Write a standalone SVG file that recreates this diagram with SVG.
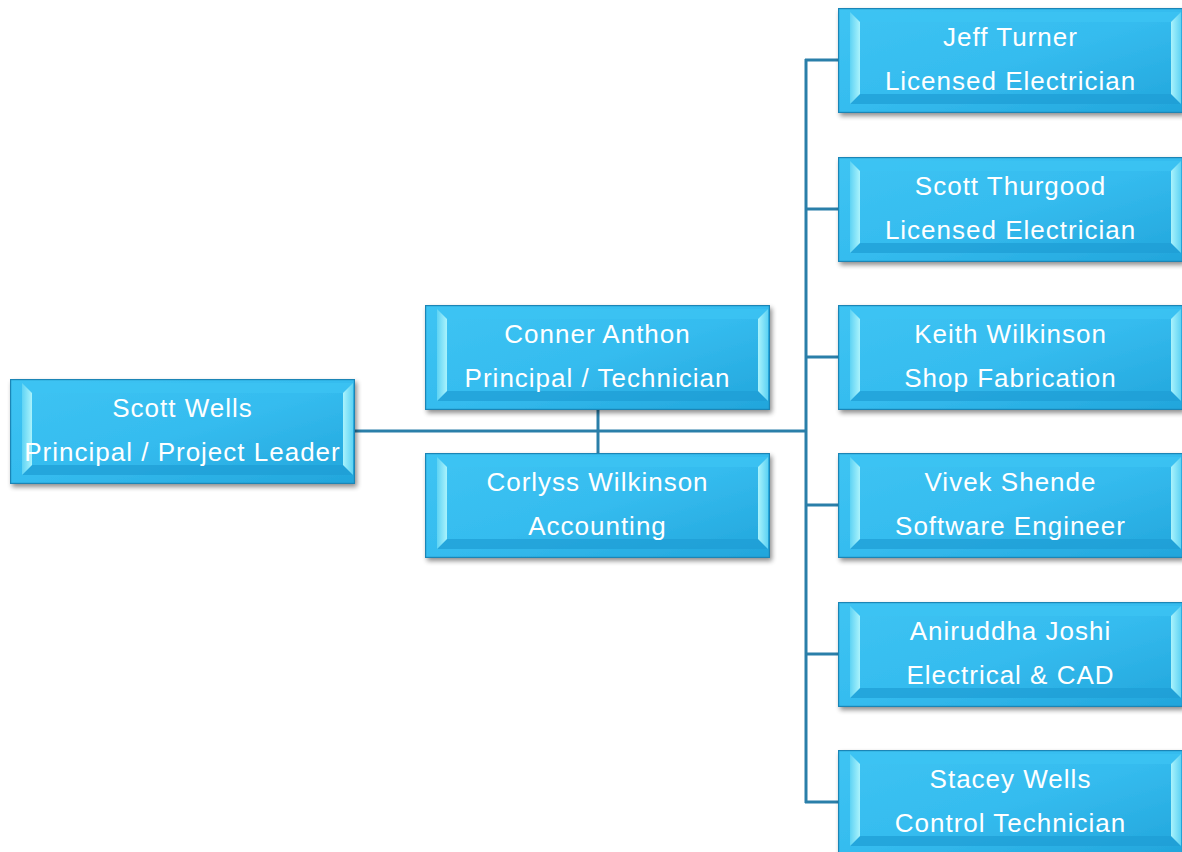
<svg xmlns="http://www.w3.org/2000/svg" xmlns:xlink="http://www.w3.org/1999/xlink" width="1182" height="852" viewBox="0 0 1182 852">
<style>
.lbl{font-family:"Liberation Sans",Arial,sans-serif;font-size:26px;fill:#ffffff;text-anchor:middle;letter-spacing:1px}
.conn{stroke:#2a7fa9;stroke-width:3;fill:none}
</style>
<defs>
<linearGradient id="face" x1="0" y1="0" x2="1" y2="1">
<stop offset="0" stop-color="#3ec4f3"/>
<stop offset="0.5" stop-color="#35bcef"/>
<stop offset="1" stop-color="#22a5db"/>
</linearGradient>
<linearGradient id="lf" x1="0" y1="0" x2="1" y2="0">
<stop offset="0" stop-color="#5ed3f4"/>
<stop offset="1" stop-color="#aaf3fc"/>
</linearGradient>
<linearGradient id="rf" x1="1" y1="0" x2="0" y2="0">
<stop offset="0" stop-color="#5ed3f4"/>
<stop offset="1" stop-color="#aaf3fc"/>
</linearGradient>
<filter id="sh" x="-10%" y="-10%" width="125%" height="130%">
<feGaussianBlur in="SourceAlpha" stdDeviation="2.5"/>
<feOffset dx="2" dy="3" result="b"/>
<feComponentTransfer><feFuncA type="linear" slope="0.45"/></feComponentTransfer>
<feMerge><feMergeNode/><feMergeNode in="SourceGraphic"/></feMerge>
</filter>
<g id="box">
<rect x="0" y="0" width="345" height="105" fill="url(#face)" filter="url(#sh)"/>
<polygon points="12,4 343,4 333,14 22,14" fill="#3cc3f3" opacity="0.8"/>
<polygon points="12,96 343,96 333,86 22,86" fill="#1e9dd4" opacity="0.7"/>
<polygon points="12,4 22,14 22,86 12,96" fill="url(#lf)"/>
<polygon points="343,4 333,14 333,86 343,96" fill="url(#rf)"/>
<rect x="0.6" y="0.6" width="343.8" height="103.8" fill="none" stroke="#1b85b6" stroke-width="1.2"/>
</g>
</defs>
<g id="connectors">
<line class="conn" x1="355" y1="431" x2="806" y2="431"/>
<line class="conn" x1="598" y1="410" x2="598" y2="453"/>
<line class="conn" x1="806" y1="59" x2="806" y2="803"/>
<line class="conn" x1="805" y1="60" x2="838" y2="60"/>
<line class="conn" x1="805" y1="209" x2="838" y2="209"/>
<line class="conn" x1="805" y1="357" x2="838" y2="357"/>
<line class="conn" x1="805" y1="505" x2="838" y2="505"/>
<line class="conn" x1="805" y1="654" x2="838" y2="654"/>
<line class="conn" x1="805" y1="802" x2="838" y2="802"/>
</g>
<g id="n-scott-wells" transform="translate(10,379)">
<use xlink:href="#box"/>
<text class="lbl" x="172.5" y="38">Scott Wells</text>
<text class="lbl" x="172.5" y="82">Principal / Project Leader</text>
</g>
<g id="n-conner-anthon" transform="translate(425,305)">
<use xlink:href="#box"/>
<text class="lbl" x="172.5" y="38">Conner Anthon</text>
<text class="lbl" x="172.5" y="82">Principal / Technician</text>
</g>
<g id="n-corlyss-wilkinson" transform="translate(425,453)">
<use xlink:href="#box"/>
<text class="lbl" x="172.5" y="38">Corlyss Wilkinson</text>
<text class="lbl" x="172.5" y="82">Accounting</text>
</g>
<g id="n-jeff-turner" transform="translate(838,8)">
<use xlink:href="#box"/>
<text class="lbl" x="172.5" y="38">Jeff Turner</text>
<text class="lbl" x="172.5" y="82">Licensed Electrician</text>
</g>
<g id="n-scott-thurgood" transform="translate(838,157)">
<use xlink:href="#box"/>
<text class="lbl" x="172.5" y="38">Scott Thurgood</text>
<text class="lbl" x="172.5" y="82">Licensed Electrician</text>
</g>
<g id="n-keith-wilkinson" transform="translate(838,305)">
<use xlink:href="#box"/>
<text class="lbl" x="172.5" y="38">Keith Wilkinson</text>
<text class="lbl" x="172.5" y="82">Shop Fabrication</text>
</g>
<g id="n-vivek-shende" transform="translate(838,453)">
<use xlink:href="#box"/>
<text class="lbl" x="172.5" y="38">Vivek Shende</text>
<text class="lbl" x="172.5" y="82">Software Engineer</text>
</g>
<g id="n-aniruddha-joshi" transform="translate(838,602)">
<use xlink:href="#box"/>
<text class="lbl" x="172.5" y="38">Aniruddha Joshi</text>
<text class="lbl" x="172.5" y="82">Electrical &amp; CAD</text>
</g>
<g id="n-stacey-wells" transform="translate(838,750)">
<use xlink:href="#box"/>
<text class="lbl" x="172.5" y="38">Stacey Wells</text>
<text class="lbl" x="172.5" y="82">Control Technician</text>
</g>
</svg>
